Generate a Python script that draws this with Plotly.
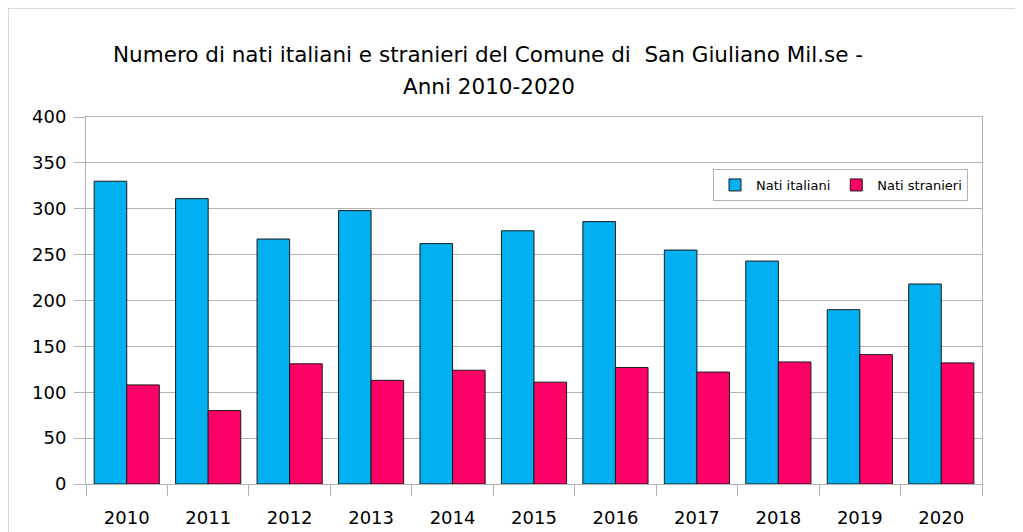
import plotly.graph_objects as go

years = ["2010", "2011", "2012", "2013", "2014", "2015", "2016", "2017", "2018", "2019", "2020"]
nati_italiani = [330, 311, 267, 298, 262, 276, 286, 255, 243, 190, 218]
nati_stranieri = [108, 80, 131, 113, 124, 111, 127, 122, 133, 141, 132]
y_ticks = [0, 50, 100, 150, 200, 250, 300, 350, 400]
title_line1 = "Numero di nati italiani e stranieri del Comune di \u00a0San Giuliano Mil.se -"
title_line2 = "Anni 2010-2020"

OFF = 8  # page offset of the figure (body margin)
W, H = 1023, 532
L, R, T, B = 86 - OFF, 1023 - (982 - OFF), 117 - OFF, 532 - (484 - OFF)
pw, ph = W - L - R, H - T - B

def px(x):  # page x -> paper
    return (x - OFF - L) / pw

def py(y):  # page y -> paper
    return (H - B - (y - OFF)) / ph

fig = go.Figure()
fig.add_trace(go.Bar(x=years, y=nati_italiani, name="Nati italiani",
                     marker=dict(color="#00B0F0", line=dict(color="#1a1a1a", width=1))))
fig.add_trace(go.Bar(x=years, y=nati_stranieri, name="Nati stranieri",
                     marker=dict(color="#FF0066", line=dict(color="#1a1a1a", width=1))))

grid = "#b3b3b3"
fig.update_layout(
    width=W, height=H,
    margin=dict(l=L, r=R, t=T, b=B),
    paper_bgcolor="white", plot_bgcolor="white",
    barmode="group", bargap=0.2, bargroupgap=0,
    font=dict(family="DejaVu Sans", color="#000000"),
    legend=dict(orientation="h", x=px(713), y=py(169), xanchor="left", yanchor="top",
                bordercolor=grid, borderwidth=1, bgcolor="white",
                font=dict(size=13, family="DejaVu Sans"), traceorder="normal",
                itemwidth=32),
    showlegend=True,
)
title_font = dict(family="DejaVu Sans", size=21.5, color="#000000")
fig.add_annotation(text=title_line1, xref="paper", yref="paper", x=px(488), y=py(55),
                   xanchor="center", yanchor="middle", showarrow=False, font=title_font)
fig.add_annotation(text=title_line2, xref="paper", yref="paper", x=px(489), y=py(87),
                   xanchor="center", yanchor="middle", showarrow=False, font=title_font)

fig.update_xaxes(showline=True, linecolor=grid, mirror=True, ticks="outside",
                 tickson="boundaries", ticklen=11, tickcolor=grid,
                 tickfont=dict(size=18), showgrid=False, ticklabelstandoff=17)
fig.update_yaxes(range=[0, 400], tickvals=y_ticks, showline=True, linecolor=grid, mirror=True,
                 ticks="outside", ticklen=11, tickcolor=grid, gridcolor=grid,
                 tickfont=dict(size=18), zeroline=False, ticklabelstandoff=4)

fig.add_shape(type="rect", xref="paper", yref="paper",
              x0=-L / pw, x1=1 + R / pw, y0=-B / ph, y1=1 + T / ph,
              line=dict(color=grid, width=1), fillcolor="rgba(0,0,0,0)", layer="below")

fig.write_html("out.html")
